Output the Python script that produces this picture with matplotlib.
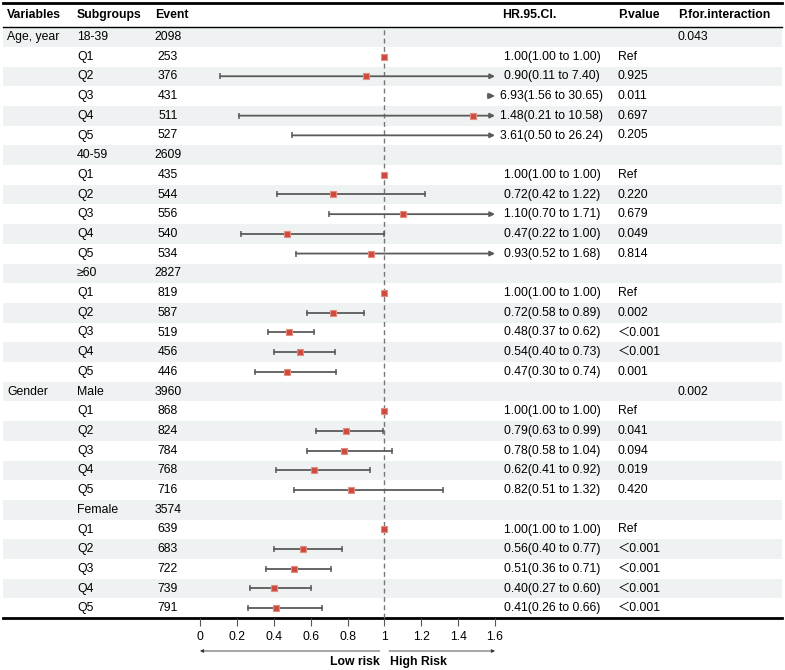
import numpy as np
import matplotlib
matplotlib.use("Agg")
import matplotlib.pyplot as plt

plt.rcParams['font.family'] = ['Liberation Sans', 'Noto Sans CJK SC', 'DejaVu Sans']
plt.rcParams['font.size'] = 8.8

nan = np.nan
variables = ["Age, year"] + [""] * 17 + ["Gender"] + [""] * 11
subgroups = ["18-39", "Q1", "Q2", "Q3", "Q4", "Q5",
             "40-59", "Q1", "Q2", "Q3", "Q4", "Q5",
             "≥60", "Q1", "Q2", "Q3", "Q4", "Q5",
             "Male", "Q1", "Q2", "Q3", "Q4", "Q5",
             "Female", "Q1", "Q2", "Q3", "Q4", "Q5"]
events = ["2098", "253", "376", "431", "511", "527",
          "2609", "435", "544", "556", "540", "534",
          "2827", "819", "587", "519", "456", "446",
          "3960", "868", "824", "784", "768", "716",
          "3574", "639", "683", "722", "739", "791"]
hr = [nan, 1.00, 0.90, 6.93, 1.48, 3.61,
      nan, 1.00, 0.72, 1.10, 0.47, 0.93,
      nan, 1.00, 0.72, 0.48, 0.54, 0.47,
      nan, 1.00, 0.79, 0.78, 0.62, 0.82,
      nan, 1.00, 0.56, 0.51, 0.40, 0.41]
lo = [nan, 1.00, 0.11, 1.56, 0.21, 0.50,
      nan, 1.00, 0.42, 0.70, 0.22, 0.52,
      nan, 1.00, 0.58, 0.37, 0.40, 0.30,
      nan, 1.00, 0.63, 0.58, 0.41, 0.51,
      nan, 1.00, 0.40, 0.36, 0.27, 0.26]
hi = [nan, 1.00, 7.40, 30.65, 10.58, 26.24,
      nan, 1.00, 1.22, 1.71, 1.00, 1.68,
      nan, 1.00, 0.89, 0.62, 0.73, 0.74,
      nan, 1.00, 0.99, 1.04, 0.92, 1.32,
      nan, 1.00, 0.77, 0.71, 0.60, 0.66]
pvalue = ["", "Ref", "0.925", "0.011", "0.697", "0.205",
          "", "Ref", "0.220", "0.679", "0.049", "0.814",
          "", "Ref", "0.002", "＜0.001", "＜0.001", "0.001",
          "", "Ref", "0.041", "0.094", "0.019", "0.420",
          "", "Ref", "＜0.001", "＜0.001", "＜0.001", "＜0.001"]
pinter = [""] * 30
pinter[0] = "0.043"
pinter[18] = "0.002"
xticks = [0, 0.2, 0.4, 0.6, 0.8, 1, 1.2, 1.4, 1.6]
xtick_labels = ["0", "0.2", "0.4", "0.6", "0.8", "1", "1.2", "1.4", "1.6"]

W, H = 785, 670
row0, rowh = 37, 19.7
xmax = 1.6
n = len(subgroups)

fig = plt.figure(figsize=(W / 100, H / 100), dpi=100)
ax = fig.add_axes([0, 0, 1, 1])
ax.set_xlim(0, W)
ax.set_ylim(H, 0)
ax.axis('off')

# bands
for i in range(n):
    if i % 2 == 0:
        ax.add_patch(plt.Rectangle((3, row0 + i * rowh - rowh / 2), 779, rowh,
                                   color='#EFF2F2', lw=0, zorder=0))

# rules
ax.plot([3, 782], [3, 3], color='black', lw=2)
ax.plot([3, 782], [27, 27], color='black', lw=1)
ax.plot([3, 782], [618, 618], color='black', lw=2)

# header
hdr = dict(fontweight='bold', va='center', fontsize=8.8)
ax.text(7, 15, "Variables", **hdr)
ax.text(77, 15, "Subgroups", **hdr)
ax.text(155, 15, "Event", **hdr)
ax.text(502, 15, "HR.95.Cl.", **hdr)
ax.text(618, 15, "P.value", **hdr)
ax.text(678, 15, "P.for.interaction", **hdr)

for i in range(n):
    y = row0 + i * rowh
    ax.text(7, y, variables[i], va='center')
    ax.text(77, y, subgroups[i], va='center')
    ax.text(168, y, events[i], va='center', ha='center')
    if not np.isnan(hr[i]):
        ax.text(552, y, f"{hr[i]:.2f}({lo[i]:.2f} to {hi[i]:.2f})", va='center', ha='center')
    ax.text(618, y, pvalue[i], va='center')
    ax.text(678, y, pinter[i], va='center')

# forest panel
x0, x1 = 200, 495
fx = fig.add_axes([x0 / W, 1 - 618 / H, (x1 - x0) / W, (618 - 27) / H])
fx.patch.set_alpha(0)
fx.set_xlim(0, xmax)
fx.set_ylim(n - 0.5, -0.5)
for s in ['top', 'right', 'left', 'bottom']:
    fx.spines[s].set_visible(False)
fx.set_yticks([])
fx.set_xticks(xticks)
fx.set_xticklabels(xtick_labels)
fx.tick_params(axis='x', length=6, width=0.8, color='#555555', pad=3, labelsize=8.8)

fx.axvline(1, color='#777777', lw=1, ls=(0, (3.5, 2.5)), zorder=1)

lc = '#5a5a5a'
for i in range(n):
    if np.isnan(hr[i]):
        continue
    l, u, h = lo[i], hi[i], hr[i]
    if u > l:
        if u > xmax:
            fx.annotate("", xy=(xmax, i), xytext=(l, i),
                        arrowprops=dict(arrowstyle='-|>', color=lc, lw=1.3,
                                        mutation_scale=7, shrinkA=0, shrinkB=0))
        else:
            fx.plot([l, u], [i, i], color=lc, lw=1.3, zorder=2)
            fx.plot([u], [i], marker='|', ms=5, mew=1.1, color=lc, zorder=2)
        fx.plot([l], [i], marker='|', ms=5, mew=1.1, color=lc, zorder=2)
    if h <= xmax:
        fx.plot([h], [i], marker='s', ms=4.8, mfc='#CD4A3E', mec='#E48C80',
                mew=0.8, zorder=3, clip_on=False)

# risk arrows
ya = 1 - 651 / H
fx.annotate("", xy=(0, ya), xytext=(0.975, ya),
            xycoords=('data', 'figure fraction'), textcoords=('data', 'figure fraction'),
            arrowprops=dict(arrowstyle='-|>', color='#333333', lw=0.6,
                            mutation_scale=5, shrinkA=0, shrinkB=0))
fx.annotate("", xy=(1.6, ya), xytext=(1.025, ya),
            xycoords=('data', 'figure fraction'), textcoords=('data', 'figure fraction'),
            arrowprops=dict(arrowstyle='-|>', color='#333333', lw=0.6,
                            mutation_scale=5, shrinkA=0, shrinkB=0))
yl = 1 - 662 / H
fx.annotate("Low risk", xy=(0.975, yl), xycoords=('data', 'figure fraction'),
            ha='right', va='center', fontweight='bold')
fx.annotate("High Risk", xy=(1.03, yl), xycoords=('data', 'figure fraction'),
            ha='left', va='center', fontweight='bold')

fig.savefig("out.png", dpi=100)
